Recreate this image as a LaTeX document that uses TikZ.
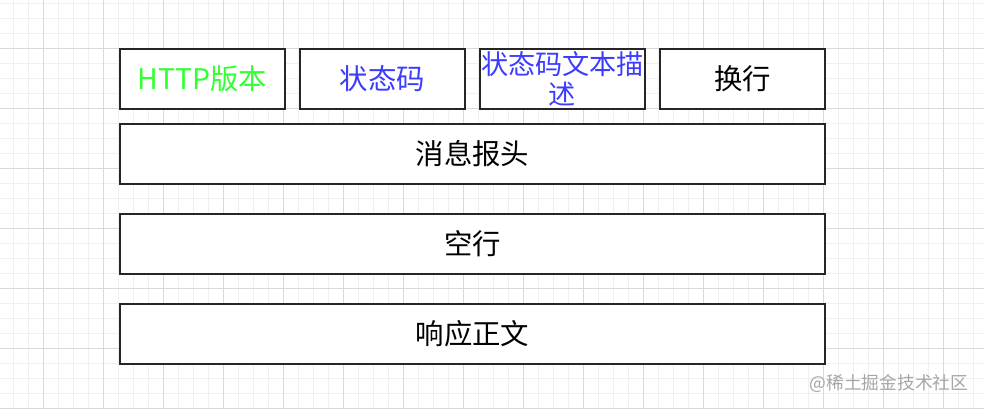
\documentclass[tikz,border=0pt]{standalone}
\usepackage{fontspec}
\setmainfont{Noto Sans CJK SC}
\usepackage{xcolor}
\usepackage{tikz}
\usetikzlibrary{positioning,calc}
\definecolor{httpgreen}{RGB}{51,255,51}
\definecolor{codeblue}{RGB}{60,60,255}
\tikzstyle{cell}= [rectangle, draw=black!85, fill=white, line width=0.9pt, inner sep=0pt, minimum width=4.125cm, minimum height=1.5cm, font=\fontsize{20.2}{21.5}\selectfont, align=center]
\tikzstyle{wide}= [cell, minimum width=17.625cm]

\begin{document}
\begin{tikzpicture}[x=0.025cm, y=-0.025cm]
				\useasboundingbox (0,0) rectangle (984,409);
				\fill[white] (0,0) rectangle (984,409);

				% grid
				\foreach \k in {-2,...,63}
					\draw[black!6, line width=0.6pt] (43+15*\k, 0) -- (43+15*\k, 409);
				\foreach \k in {-3,...,24}
					\draw[black!6, line width=0.6pt] (0, 48+15*\k) -- (984, 48+15*\k);
				\foreach \k in {0,...,15}
					\draw[black!15, line width=0.6pt] (43+60*\k, 0) -- (43+60*\k, 409);
				\foreach \k in {-1,...,6}
					\draw[black!15, line width=0.6pt] (0, 48+60*\k) -- (984, 48+60*\k);

				\node[cell, text=httpgreen] (ver) at (202.5, 79) {HTTP版本};
				\node[cell, text=codeblue] (code) at (382.5, 79) {状态码};
				\node[cell, text=codeblue, font=\fontsize{19.3}{21.5}\selectfont] (desc) at (562.5, 79) {状态码文本描\\述};
				\node[cell] (crlf) at (742.5, 79) {换行};

				\node[wide] (head) at (472.5, 154) {消息报头};
				\node[wide] (blank) at (472.5, 244) {空行};
				\node[wide] (body) at (472.5, 334) {响应正文};

				\node[text=black!35, font=\fontsize{12.6}{14}\selectfont] (wm) at (889, 384) {@稀土掘金技术社区};
			\end{tikzpicture}
\end{document}
